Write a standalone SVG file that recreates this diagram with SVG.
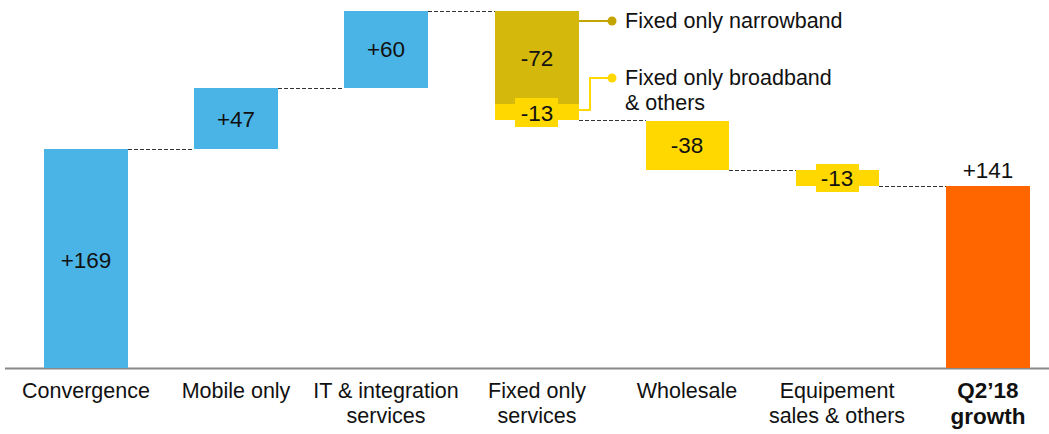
<svg xmlns="http://www.w3.org/2000/svg" width="1049" height="434" viewBox="0 0 1049 434">
<style>
text{font-family:"Liberation Sans",Arial,sans-serif;font-size:21.5px;fill:#111}
.c{text-anchor:middle}
.v{font-size:22.5px}
.b{font-weight:bold;font-size:22.5px}
.dash{stroke:#333;stroke-width:1;stroke-dasharray:4 2;fill:none}
.blue{fill:#4bb4e6}
.yel{fill:#ffd800}
.olive{fill:#d4b80c}
</style>
<rect width="1049" height="434" fill="#fff"/>
<g id="connectors">
<line class="dash" x1="128" y1="149.5" x2="194" y2="149.5"/>
<line class="dash" x1="278" y1="88.5" x2="344" y2="88.5"/>
<line class="dash" x1="428" y1="11.5" x2="495" y2="11.5"/>
<line class="dash" x1="579" y1="120.5" x2="646" y2="120.5"/>
<line class="dash" x1="729" y1="170.5" x2="796" y2="170.5"/>
<line class="dash" x1="879" y1="186.5" x2="946" y2="186.5"/>
<polyline points="569,21 612,21" stroke="#c4a400" stroke-width="2" fill="none"/>
<circle cx="612" cy="21" r="4.5" fill="#c4a400"/>
<polyline points="579,110 590,110 590,78 612,78" stroke="#ffd800" stroke-width="2" fill="none"/>
<circle cx="612" cy="78" r="4.5" fill="#ffd800"/>
</g>
<g id="axis"><line x1="5" y1="368.5" x2="1049" y2="368.5" stroke="#888" stroke-width="2"/></g>
<g id="convergence">
<rect class="blue" x="44" y="149" width="84" height="219"/>
<text class="c v" x="86" y="268">+169</text>
<text class="c" x="86" y="398">Convergence</text>
</g>
<g id="mobile">
<rect class="blue" x="194" y="88" width="84" height="61"/>
<text class="c v" x="236" y="127">+47</text>
<text class="c" x="236" y="398">Mobile only</text>
</g>
<g id="it">
<rect class="blue" x="344" y="11" width="84" height="77"/>
<text class="c v" x="386" y="57">+60</text>
<text class="c" x="386" y="398">IT &amp; integration</text>
<text class="c" x="386" y="423">services</text>
</g>
<g id="fixed">
<rect class="olive" x="495" y="11" width="84" height="93"/>
<rect class="yel" x="495" y="104" width="84" height="16"/>
<rect class="yel" x="515" y="98" width="43" height="29"/>
<text class="c v" x="537" y="66">-72</text>
<text class="c v" x="537" y="121">-13</text>
<text class="c" x="537" y="398">Fixed only</text>
<text class="c" x="537" y="423">services</text>
<text x="625" y="28">Fixed only narrowband</text>
<text x="625" y="85">Fixed only broadband</text>
<text x="625" y="110">&amp; others</text>
</g>
<g id="wholesale">
<rect class="yel" x="646" y="121" width="83" height="49"/>
<text class="c v" x="687" y="153">-38</text>
<text class="c" x="687" y="398">Wholesale</text>
</g>
<g id="equipement">
<rect class="yel" x="796" y="170" width="83" height="16"/>
<rect class="yel" x="816" y="164" width="43" height="28"/>
<text class="c v" x="837" y="186">-13</text>
<text class="c" x="837" y="398">Equipement</text>
<text class="c" x="837" y="423">sales &amp; others</text>
</g>
<g id="growth">
<rect x="946" y="186" width="84" height="182" fill="#ff6600"/>
<text class="c v" x="988" y="178">+141</text>
<text class="c b" x="988" y="398">Q2’18</text>
<text class="c b" x="988" y="424">growth</text>
</g>
</svg>
